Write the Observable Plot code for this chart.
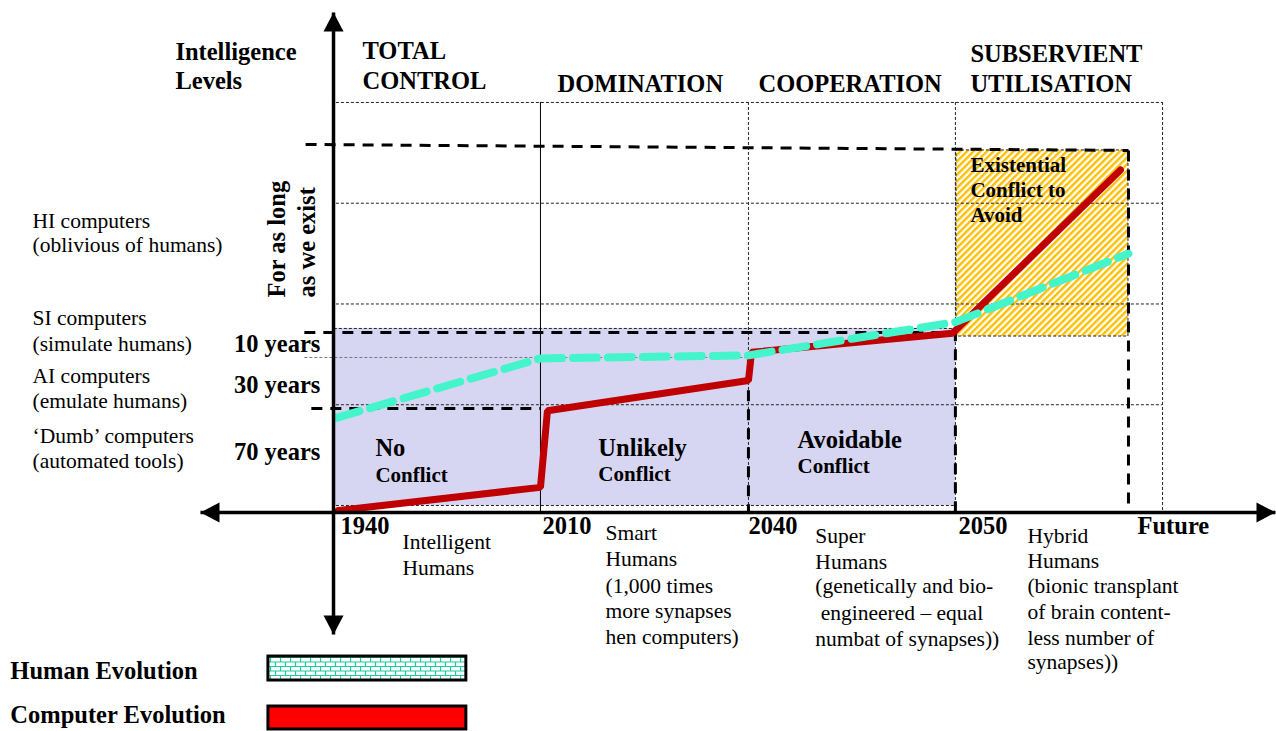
<!DOCTYPE html>
<html><head><meta charset="utf-8">
<script src="https://cdn.jsdelivr.net/npm/d3@7"></script>
<script src="https://cdn.jsdelivr.net/npm/@observablehq/plot@0.6"></script>
<style>
html,body{margin:0;padding:0;background:#fff;}
#chart svg{display:block;}
</style>
</head><body><div id="chart"></div>
<script>
// x units: eras (1940 = 0, 2010 = 1, 2040 = 2, 2050 = 3, grid end = 4)
// y units: intelligence levels (grid rows 0..4)
const humanEvolution = [
  {u:-0.01, v:0.87}, {u:0.984, v:1.46}, {u:1.997, v:1.49}, {u:3.005, v:1.82}, {u:3.848, v:2.50}
];
const computerEvolution = [
  {u:0, v:-0.05}, {u:0.984, v:0.18}, {u:1.018, v:0.94}, {u:1.997, v:1.24},
  {u:2.012, v:1.52}, {u:2.991, v:1.71}, {u:3.809, v:3.33}
];
const conflictZone = [{x1:-0.02, x2:3.005, y1:0, y2:1.757}];
const existentialZone = [{x1:3.01, x2:3.848, y1:1.677, y2:3.524}];

const gridRows = [
  {v:4, a:-0.01, b:4.014}, {v:3, a:-0.01, b:4.014}, {v:2, a:-0.01, b:4.014},
  {v:1, a:-0.01, b:4.014}, {v:0, a:-0.01, b:3.005}, {v:1.757, a:-0.02, b:3.005}
];
const gridCols = [{u:1.997}, {u:3.005}, {u:4.014}];
const solidCols = [{u:0.984}];
const heavyDashes = [
  {x1:-0.160, y1:3.583, x2:3.848, y2:3.524},
  {x1:-0.166, y1:1.717, x2:3.005, y2:1.717},
  {x1:-0.132, y1:0.963, x2:0.984, y2:0.963},
  {x1:1.997, y1:1.52, x2:1.997, y2:-0.069},
  {x1:3.005, y1:1.74, x2:3.005, y2:-0.069},
  {x1:3.848, y1:3.524, x2:3.848, y2:-0.069}
];
const greyDotted = [{x1:-0.166, y1:1.469, x2:1.997, y2:1.469}];
const axesLines = [
  {x1:-0.672, y1:-0.069, x2:4.564, y2:-0.069},
  {x1:-0.024, y1:4.893, x2:-0.024, y2:-1.280}
];
const tipUp = [{u:-0.024, v:4.893}];
const tipDown = [{u:-0.024, v:-1.280}];
const tipLeft = [{u:-0.672, v:-0.069}];
const tipRight = [{u:4.564, v:-0.069}];

const headerLabels = [
  {t:"Intelligence", u:-0.794, v:4.417}, {t:"Levels", u:-0.794, v:4.129},
  {t:"TOTAL", u:0.117, v:4.427}, {t:"CONTROL", u:0.117, v:4.129},
  {t:"DOMINATION", u:1.067, v:4.099}, {t:"COOPERATION", u:2.046, v:4.099},
  {t:"SUBSERVIENT", u:3.078, v:4.397}, {t:"UTILISATION", u:3.078, v:4.099}
];
const levelLabels = [
  {t:"HI computers", u:-1.49, v:2.759}, {t:"(oblivious of humans)", u:-1.49, v:2.511},
  {t:"SI computers", u:-1.49, v:1.787}, {t:"(simulate humans)", u:-1.49, v:1.538},
  {t:"AI computers", u:-1.49, v:1.211}, {t:"(emulate humans)", u:-1.49, v:0.963},
  {t:"\u2018Dumb\u2019 computers", u:-1.49, v:0.625}, {t:"(automated tools)", u:-1.49, v:0.377}
];
const yearSpans = [
  {t:"10 years", u:-0.088, v:1.519}, {t:"30 years", u:-0.088, v:1.112}, {t:"70 years", u:-0.088, v:0.447}
];
const existLabel = [
  {t:"For as long", u:-0.258, v:2.065}, {t:"as we exist", u:-0.112, v:2.065}
];
const conflictBig = [
  {t:"No", u:0.180, v:0.496}, {t:"Unlikely", u:1.266, v:0.496}, {t:"Avoidable", u:2.236, v:0.566}
];
const conflictSmall = [
  {t:"Conflict", u:0.180, v:0.238}, {t:"Conflict", u:1.266, v:0.248}, {t:"Conflict", u:2.236, v:0.318},
  {t:"Existential", u:3.078, v:3.305}, {t:"Conflict to", u:3.078, v:3.057}, {t:"Avoid", u:3.078, v:2.809}
];
const eraTicks = [
  {t:"1940", u:0.010}, {t:"2010", u:0.994}, {t:"2040", u:1.997}, {t:"2050", u:3.020}, {t:"Future", u:3.892}
];
const eraTickLevel = -0.278;
const humanStages = [
  {t:"Intelligent", u:0.312, v:-0.427}, {t:"Humans", u:0.312, v:-0.685},
  {t:"Smart", u:1.301, v:-0.347}, {t:"Humans", u:1.301, v:-0.605}, {t:"(1,000 times", u:1.301, v:-0.864},
  {t:"more synapses", u:1.301, v:-1.112}, {t:"hen computers)", u:1.301, v:-1.370},
  {t:"Super", u:2.323, v:-0.377}, {t:"Humans", u:2.323, v:-0.635}, {t:"(genetically and bio-", u:2.323, v:-0.873},
  {t:"\u00a0engineered \u2013 equal", u:2.323, v:-1.132}, {t:"numbat of synapses))", u:2.323, v:-1.390},
  {t:"Hybrid", u:3.356, v:-0.377}, {t:"Humans", u:3.356, v:-0.625}, {t:"(bionic transplant", u:3.356, v:-0.873},
  {t:"of brain content-", u:3.356, v:-1.122}, {t:"less number of", u:3.356, v:-1.380}, {t:"synapses))", u:3.356, v:-1.618}
];
const legendLabels = [
  {t:"Human Evolution", u:-1.598, v:-1.717}, {t:"Computer Evolution", u:-1.598, v:-2.154}
];
const legendHuman = [{x1:-0.341, x2:0.623, y1:-1.499, y2:-1.737}];
const legendComputer = [{x1:-0.341, x2:0.623, y1:-1.995, y2:-2.223}];

const headUp = {draw(c){c.moveTo(0,0);c.lineTo(10,19);c.lineTo(-10,19);c.closePath();}};
const headDown = {draw(c){c.moveTo(0,0);c.lineTo(10,-19);c.lineTo(-10,-19);c.closePath();}};
const headLeft = {draw(c){c.moveTo(0,0);c.lineTo(19,-10);c.lineTo(19,10);c.closePath();}};
const headRight = {draw(c){c.moveTo(0,0);c.lineTo(-19,-10);c.lineTo(-19,10);c.closePath();}};

const dotted = {stroke:"#222", strokeWidth:1, strokeDasharray:"3,2"};
const heavy = {stroke:"#000", strokeWidth:3, strokeDasharray:"11,8"};
const txt = (data, o) => Plot.text(data, {x:"u", y:"v", text:"t", textAnchor:"start", lineAnchor:"bottom", fill:"#000", ...o});

const chart = Plot.plot({
  width:1276, height:731, margin:0,
  x:{domain:[-1.646, 4.569], axis:null},
  y:{domain:[-2.243, 5.012], axis:null},
  style:{fontFamily:"'Liberation Serif','Times New Roman',serif", background:"#fff", overflow:"visible"},
  marks:[
    Plot.rect(conflictZone, {x1:"x1", x2:"x2", y1:"y1", y2:"y2", fill:"#d6d6f3"}),
    Plot.rect(existentialZone, {x1:"x1", x2:"x2", y1:"y1", y2:"y2", fill:"url(#hatch)", ...dotted}),
    Plot.ruleY(gridRows, {y:"v", x1:"a", x2:"b", ...dotted}),
    Plot.ruleX(gridCols, {x:"u", y1:4, y2:-0.069, ...dotted}),
    Plot.ruleX(solidCols, {x:"u", y1:4, y2:-0.069, stroke:"#000", strokeWidth:1}),
    Plot.link(greyDotted, {x1:"x1", y1:"y1", x2:"x2", y2:"y2", stroke:"#777", strokeWidth:1, strokeDasharray:"3,2"}),
    Plot.link(heavyDashes, {x1:"x1", y1:"y1", x2:"x2", y2:"y2", ...heavy}),
    Plot.line(computerEvolution, {x:"u", y:"v", stroke:"#c00000", strokeWidth:7, strokeLinejoin:"miter", curve:"linear"}),
    Plot.line(humanEvolution, {x:"u", y:"v", stroke:"#44f5cb", strokeWidth:8, strokeDasharray:"24,11", curve:"linear"}),
    Plot.link(axesLines, {x1:"x1", y1:"y1", x2:"x2", y2:"y2", stroke:"#000", strokeWidth:3.5}),
    Plot.dot(tipUp, {x:"u", y:"v", symbol:headUp, fill:"#000", stroke:"none"}),
    Plot.dot(tipDown, {x:"u", y:"v", symbol:headDown, fill:"#000", stroke:"none"}),
    Plot.dot(tipLeft, {x:"u", y:"v", symbol:headLeft, fill:"#000", stroke:"none"}),
    Plot.dot(tipRight, {x:"u", y:"v", symbol:headRight, fill:"#000", stroke:"none"}),
    txt(headerLabels, {fontSize:24.5, fontWeight:"bold"}),
    txt(levelLabels, {fontSize:21.5}),
    txt(yearSpans, {fontSize:24.5, fontWeight:"bold", textAnchor:"end"}),
    txt(existLabel, {fontSize:24.5, fontWeight:"bold", rotate:-90}),
    txt(conflictBig, {fontSize:24.5, fontWeight:"bold"}),
    txt(conflictSmall, {fontSize:21, fontWeight:"bold"}),
    Plot.text(eraTicks, {x:"u", y:eraTickLevel, text:"t", textAnchor:"start", lineAnchor:"bottom", fontSize:24.5, fontWeight:"bold", fill:"#000"}),
    txt(humanStages, {fontSize:21.5}),
    txt(legendLabels, {fontSize:24.5, fontWeight:"bold"}),
    Plot.rect(legendHuman, {x1:"x1", x2:"x2", y1:"y1", y2:"y2", fill:"url(#brick)", stroke:"#000", strokeWidth:3}),
    Plot.rect(legendComputer, {x1:"x1", x2:"x2", y1:"y1", y2:"y2", fill:"#ff0000", stroke:"#000", strokeWidth:3})
  ]
});

const defs = d3.select(chart).insert("defs", ":first-child");
const hatch = defs.append("pattern").attr("id","hatch").attr("patternUnits","userSpaceOnUse")
  .attr("width",4.7).attr("height",4.7).attr("patternTransform","rotate(45)");
hatch.append("rect").attr("width",4.7).attr("height",4.7).attr("fill","#fff");
hatch.append("rect").attr("width",2.4).attr("height",4.7).attr("fill","#ffbf00");
const brick = defs.append("pattern").attr("id","brick").attr("patternUnits","userSpaceOnUse")
  .attr("width",10).attr("height",9);
brick.append("rect").attr("width",10).attr("height",9).attr("fill","#fff");
brick.append("path").attr("d","M0,0.5H10M0,5H10M0.5,0V4.5M5.5,5V9").attr("stroke","#1ccc9f").attr("stroke-width",1.2).attr("fill","none");

document.getElementById("chart").appendChild(chart);
</script></body></html>
